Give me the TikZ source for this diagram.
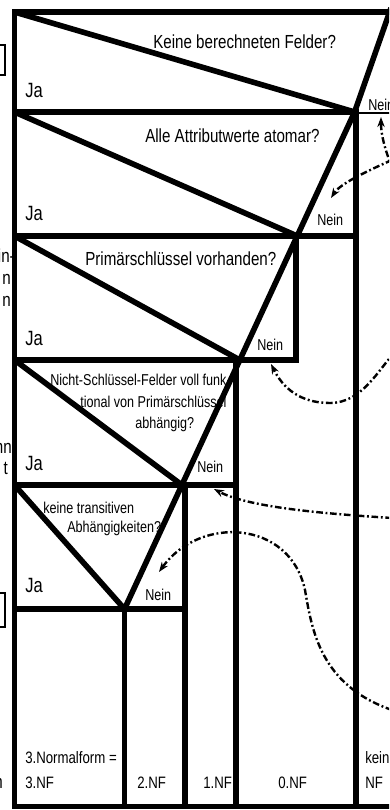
\documentclass[tikz,border=0pt]{standalone}
\usepackage{fontspec}
\setmainfont{Liberation Sans}[FakeStretch=0.8]
\usetikzlibrary{arrows.meta}

\begin{document}
\begin{tikzpicture}[x=0.75pt,y=-0.75pt,>={Stealth[length=7.5pt,width=5.5pt]},
  struktur/.style={line width=4.2pt},
  duenn/.style={line width=2pt},
  hinweis/.style={->,line width=1.8pt,dash pattern=on 5pt off 2pt on 1.4pt off 2pt},
  frage/.style={inner sep=0pt,anchor=base west,font=\fontsize{14.2pt}{17pt}\selectfont},
  jalabel/.style={inner sep=0pt,anchor=base west,font=\fontsize{15.5pt}{18pt}\selectfont},
  klein/.style={inner sep=0pt,anchor=base west,font=\fontsize{11.8pt}{14pt}\selectfont},
  nf/.style={inner sep=0pt,anchor=base west,font=\fontsize{12.4pt}{15pt}\selectfont},
  rand/.style={inner sep=0pt,anchor=base east,font=\fontsize{14.2pt}{17pt}\selectfont}]
\useasboundingbox (0,0) rectangle (389,810);
\clip (0,0) rectangle (389,810);
\coordinate (v1) at (354.6,112);
\coordinate (v2) at (297.2,236);
\coordinate (v3) at (239.8,360);
\coordinate (v4) at (181.9,485);
\coordinate (v5) at (124.5,609);
\coordinate (oben) at (391,8);
\draw[struktur] (400,12) -- (14.5,12) -- (14.5,806.5) -- (400,806.5);
\draw[struktur] (14.5,112) -- (356,112) -- (356,806.5);
\draw[duenn] (356,113) -- (400,113);
\draw[struktur] (14.5,236) -- (356,236);
\draw[struktur] (296,236) -- (296,360) -- (14.5,360);
\draw[struktur] (236,360) -- (236,806.5);
\draw[struktur] (14.5,485) -- (236,485);
\draw[struktur] (185,485) -- (185,806.5);
\draw[struktur] (14.5,609) -- (185,609);
\draw[struktur] (124.5,609) -- (124.5,806.5);
\draw[struktur] (14.5,12) -- (v1);
\draw[struktur] (14.5,112) -- (v2);
\draw[struktur] (14.5,236) -- (v3);
\draw[struktur] (14.5,360) -- (v4);
\draw[struktur] (14.5,485) -- (v5);
\draw[struktur] (v5) -- (v4) -- (v3) -- (v2) -- (v1) -- (oben);
\draw[duenn] (-5,45) -- (5,45) -- (5,75) -- (-5,75);
\draw[duenn] (-5,593) -- (5,593) -- (5,627) -- (-5,627);
\node[frage] (f1) at (153,48) {Keine berechneten Felder?};
\node[frage] (f2) at (145,142) {Alle Attributwerte atomar?};
\node[frage] (f3) at (85,265) {Primärschlüssel vorhanden?};
\node[klein] (f4a) at (50,385) {Nicht-Schlüssel-Felder voll funk-};
\node[klein] (f4b) at (80,407) {tional von Primärschlüssel};
\node[klein] (f4c) at (135,428) {abhängig?};
\node[klein] (f5a) at (43,513) {keine transitiven};
\node[klein] (f5b) at (67,532) {Abhängigkeiten?};
\node[jalabel] (ja1) at (25,97) {Ja};
\node[jalabel] (ja2) at (25,220) {Ja};
\node[jalabel] (ja3) at (25,345) {Ja};
\node[jalabel] (ja4) at (25,470) {Ja};
\node[jalabel] (ja5) at (25,592) {Ja};
\node[klein] (nein1) at (368,110) {Nein};
\node[klein] (nein2) at (317,225) {Nein};
\node[klein] (nein3) at (257,350) {Nein};
\node[klein] (nein4) at (197,472) {Nein};
\node[klein] (nein5) at (145,600) {Nein};
\node[nf] (nf3a) at (25,763) {3.Normalform =};
\node[nf] (nf3b) at (25,788) {3.NF};
\node[nf] (nf2) at (137,788) {2.NF};
\node[nf] (nf1) at (203,788) {1.NF};
\node[nf] (nf0) at (278,788) {0.NF};
\node[nf] (keina) at (365,763) {kein};
\node[nf] (keinb) at (365,788) {NF};
\node[rand] (r1) at (15,262) {in-};
\node[rand] (r2) at (11,284) {n};
\node[rand] (r3) at (11,306) {n};
\node[rand] (r4) at (12,453) {nn};
\node[rand] (r5) at (8,474) {t};
\node[rand] (r6) at (3,788) {n};
\coordinate (pa) at (393,170);
\coordinate (pb) at (392,160);
\coordinate (pc) at (395,352);
\coordinate (pd) at (392,518);
\coordinate (pe) at (392,710);
\draw[hinweis] (pa) .. controls (385,150) and (381,135) .. (381,117);
\draw[hinweis] (pb) .. controls (365,172) and (340,184) .. (331,198);
\draw[hinweis] (pc) .. controls (378,370) and (362,403) .. (330,403) .. controls (300,403) and (283,388) .. (271,364);
\draw[hinweis] (pd) .. controls (330,514) and (250,508) .. (214,489);
\draw[hinweis] (pe) .. controls (320,685) and (312,630) .. (305,590) .. controls (290,520) and (200,515) .. (159,572);
\end{tikzpicture}
\end{document}
